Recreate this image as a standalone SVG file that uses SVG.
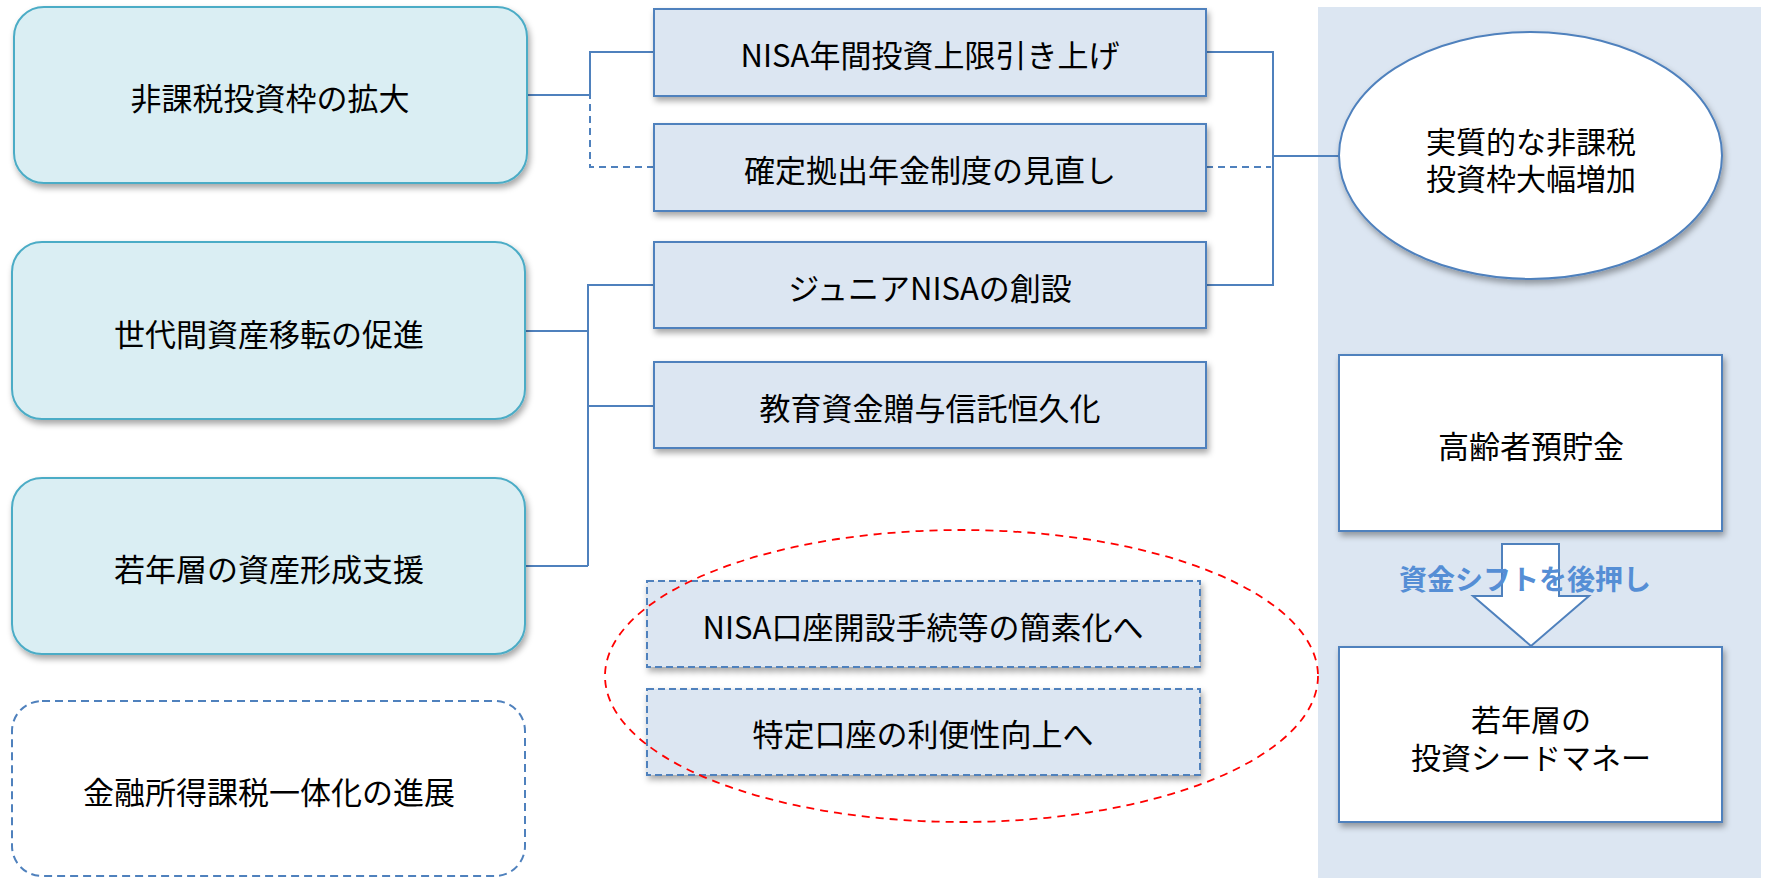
<svg xmlns="http://www.w3.org/2000/svg" width="1766" height="878" viewBox="0 0 1766 878">
<defs>
<filter id="sh" x="-10%" y="-10%" width="125%" height="130%">
<feDropShadow dx="2" dy="4" stdDeviation="3" flood-color="#000" flood-opacity="0.35"/>
</filter>
<style>
text{font-family:"Noto Sans CJK JP","Noto Sans",sans-serif;font-size:31px;fill:#000;text-anchor:middle;dominant-baseline:central}
.rb{fill:#DAEEF3;stroke:#4BACC6;stroke-width:2}
.mb{fill:#DCE6F2;stroke:#4F81BD;stroke-width:2}
.mbd{fill:#DCE6F2;stroke:#4F81BD;stroke-width:2;stroke-dasharray:7 4}
.wb{fill:#FFFFFF;stroke:#4F81BD;stroke-width:2}
.c{fill:none;stroke:#4F81BD;stroke-width:2}
.cd{fill:none;stroke:#4F81BD;stroke-width:2;stroke-dasharray:7 5}
</style>
</defs>
<rect x="0" y="0" width="1766" height="878" fill="#FFFFFF"/>
<rect id="panel" x="1318" y="7" width="443" height="871" fill="#DCE6F2"/>

<g id="connectors">
<polyline class="c" points="527,95 590,95 590,52 654,52"/>
<polyline class="cd" points="527,95 590,95 590,167 654,167"/>
<polyline class="c" points="524,331 588,331"/>
<polyline class="c" points="588,566 524,566"/>
<polyline class="c" points="588,566 588,285 654,285"/>
<polyline class="c" points="588,406 654,406"/>
<polyline class="c" points="1206,52 1273,52 1273,285 1206,285"/>
<polyline class="cd" points="1206,167 1271,167"/>
<polyline class="c" points="1273,156 1339,156"/>
</g>

<g id="n1"><rect class="rb" x="14" y="7" width="513" height="176" rx="30" filter="url(#sh)"/><text x="270" y="96">非課税投資枠の拡大</text></g>
<g id="n2"><rect class="rb" x="12" y="242" width="513" height="177" rx="30" filter="url(#sh)"/><text x="269" y="332">世代間資産移転の促進</text></g>
<g id="n3"><rect class="rb" x="12" y="478" width="513" height="176" rx="30" filter="url(#sh)"/><text x="269" y="567">若年層の資産形成支援</text></g>
<g id="n4"><rect x="12" y="701" width="513" height="175" rx="30" fill="#FFFFFF" stroke="#4F81BD" stroke-width="2" stroke-dasharray="8 5"/><text x="269" y="790">金融所得課税一体化の進展</text></g>

<g id="m1"><rect class="mb" x="654" y="9" width="552" height="87" filter="url(#sh)"/><text x="930" y="53">NISA年間投資上限引き上げ</text></g>
<g id="m2"><rect class="mb" x="654" y="124" width="552" height="87" filter="url(#sh)"/><text x="930" y="168">確定拠出年金制度の見直し</text></g>
<g id="m3"><rect class="mb" x="654" y="242" width="552" height="86" filter="url(#sh)"/><text x="930" y="286">ジュニアNISAの創設</text></g>
<g id="m4"><rect class="mb" x="654" y="362" width="552" height="86" filter="url(#sh)"/><text x="930" y="406">教育資金贈与信託恒久化</text></g>

<g id="d1"><rect class="mbd" x="647" y="581" width="553" height="86" filter="url(#sh)"/><text x="923" y="625">NISA口座開設手続等の簡素化へ</text></g>
<g id="d2"><rect class="mbd" x="647" y="689" width="553" height="86" filter="url(#sh)"/><text x="923" y="732">特定口座の利便性向上へ</text></g>
<g id="focus"><ellipse cx="961.5" cy="676" rx="356.5" ry="146" fill="none" stroke="#FF0000" stroke-width="1.8" stroke-dasharray="8 6"/></g>

<g id="e1"><ellipse class="wb" cx="1530.5" cy="155.5" rx="191.5" ry="123.5" filter="url(#sh)"/><text style="font-size:30px"><tspan x="1531" y="140">実質的な非課税</tspan><tspan x="1531" y="177">投資枠大幅増加</tspan></text></g>
<g id="r1"><rect class="wb" x="1339" y="355" width="383" height="176" filter="url(#sh)"/><text x="1531" y="444">高齢者預貯金</text></g>
<g id="arrow"><polygon points="1502,544 1559,544 1559,596 1589,596 1531,646 1473,596 1502,596" fill="#FFFFFF" stroke="#4F81BD" stroke-width="2"/><text x="1525" y="578" style="fill:#558ED5;font-weight:bold;font-size:28px">資金シフトを後押し</text></g>
<g id="r2"><rect class="wb" x="1339" y="647" width="383" height="175" filter="url(#sh)"/><text style="font-size:30px"><tspan x="1531" y="718">若年層の</tspan><tspan x="1531" y="756">投資シードマネー</tspan></text></g>
</svg>
